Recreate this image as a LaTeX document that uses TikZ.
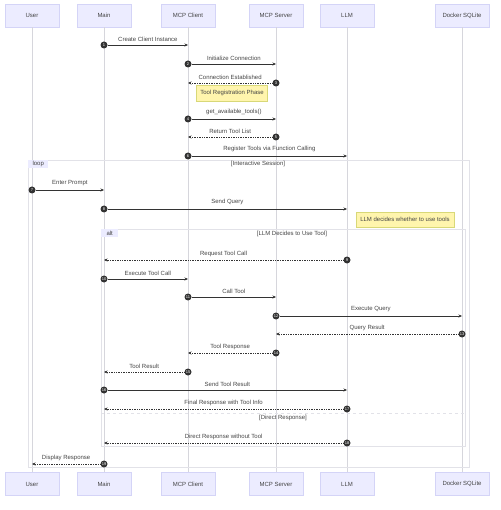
\documentclass[tikz,border=0pt]{standalone}
\usepackage{fontspec}
\setmainfont{Liberation Sans}
\usetikzlibrary{arrows.meta, positioning}
\definecolor{actorfill}{HTML}{ECECFF}
\definecolor{actorline}{HTML}{D4D4F7}
\definecolor{notefill}{HTML}{FFF5AD}
\definecolor{noteline}{HTML}{D8D878}
\definecolor{textgray}{HTML}{444444}
\definecolor{linegray}{HTML}{333333}
\definecolor{framegray}{HTML}{E2E2E8}
\definecolor{lifegray}{HTML}{D6D6DC}

\begin{document}
\begin{tikzpicture}[
    x=1pt, y=-1pt,
    >={Stealth[length=3.5pt, width=3pt]},
    font=\fontsize{6}{7}\selectfont,
    actor/.style={draw=actorline, fill=actorfill, minimum width=54pt, minimum height=23pt, inner sep=0pt, text=textgray},
    life/.style={draw=lifegray, line width=0.7pt},
    msg/.style={->, draw=linegray, line width=0.55pt},
    reply/.style={msg, line width=0.45pt, dash pattern=on 0.5pt off 1.2pt},
    seqnum/.style={circle, fill=linegray, text=white, inner sep=0pt, minimum size=7pt, font=\fontsize{4}{4}\selectfont},
    lbl/.style={above=3.5pt, text=textgray, inner sep=0pt},
    note/.style={draw=noteline, fill=notefill, inner sep=0pt, text=textgray},
    frame/.style={draw=framegray, line width=0.7pt},
    framelabel/.style={fill=actorfill, anchor=north west, inner sep=0pt, minimum height=8pt, text=textgray}
]
\useasboundingbox (0,0) rectangle (500,510);

% ================= PARTICIPANTS =================
\node[actor] (userT)   at (32,15.5)  {User};
\node[actor] (mainT)   at (104,15.5) {Main};
\node[actor] (clientT) at (188,15.5) {MCP Client};
\node[actor] (serverT) at (276,15.5) {MCP Server};
\node[actor] (llmT)    at (347,15.5) {LLM};
\node[actor] (dbT)     at (462,15.5) {Docker SQLite};

\node[actor] (userB)   at (32,484)  {User};
\node[actor] (mainB)   at (104,484) {Main};
\node[actor] (clientB) at (188,484) {MCP Client};
\node[actor] (serverB) at (276,484) {MCP Server};
\node[actor] (llmB)    at (347,484) {LLM};
\node[actor] (dbB)     at (462,484) {Docker SQLite};

% Lifelines
\draw[life] (userT) -- (userB);
\draw[life] (mainT) -- (mainB);
\draw[life] (clientT) -- (clientB);
\draw[life] (serverT) -- (serverB);
\draw[life] (llmT) -- (llmB);
\draw[life] (dbT) -- (dbB);

% ================= FRAMES =================
\coordinate (loopNW) at (28,160);
\coordinate (loopSE) at (469,467);
\draw[frame] (loopNW) rectangle (loopSE);
\node[framelabel, minimum width=20pt] (loopTag) at (loopNW) {loop};
\node[text=textgray] (loopCond) at (258,164) {[Interactive Session]};

\coordinate (altNW) at (101,229);
\coordinate (altSE) at (465,446);
\draw[frame] (altNW) rectangle (altSE);
\node[framelabel, minimum width=17pt] (altTag) at (altNW) {alt};
\node[text=textgray] (altCond) at (292,233.5) {[LLM Decides to Use Tool]};

\coordinate (elseW) at (101,413);
\coordinate (elseE) at (465,413);
\draw[frame, dashed] (elseW) -- (elseE);
\node[text=textgray] (elseCond) at (283,418) {[Direct Response]};

% ================= SETUP =================
\node[seqnum] (s1) at (104,45) {1};
\draw[msg] (s1) -- (clientT |- s1) node[midway, lbl] {Create Client Instance};

\node[seqnum] (s2) at (188,64) {2};
\draw[msg] (s2) -- (serverT |- s2) node[midway, lbl] {Initialize Connection};

\node[seqnum] (s3) at (276,83) {3};
\draw[reply] (s3) -- (clientT |- s3) node[midway, lbl] {Connection Established};

\node[note, minimum width=71pt, minimum height=16pt] (regNote) at (232,93) {Tool Registration Phase};

\node[seqnum] (s4) at (188,119) {4};
\draw[msg] (s4) -- (serverT |- s4) node[midway, lbl] {get\_available\_tools()};

\node[seqnum] (s5) at (276,137) {5};
\draw[reply] (s5) -- (clientT |- s5) node[midway, lbl] {Return Tool List};

\node[seqnum] (s6) at (188,156) {6};
\draw[msg] (s6) -- (llmT |- s6) node[midway, lbl] {Register Tools via Function Calling};

% ================= INTERACTIVE SESSION =================
\node[seqnum] (s7) at (32,190) {7};
\draw[msg] (s7) -- (mainT |- s7) node[midway, lbl] {Enter Prompt};

\node[seqnum] (s8) at (104,209) {8};
\draw[msg] (s8) -- (llmT |- s8) node[midway, lbl] {Send Query};

\node[note, minimum width=98pt, minimum height=15pt] (decideNote) at (405,219.5) {LLM decides whether to use tools};

% Tool branch
\node[seqnum] (s9) at (347,260) {9};
\draw[reply] (s9) -- (mainT |- s9) node[midway, lbl] {Request Tool Call};

\node[seqnum] (s10) at (104,279) {10};
\draw[msg] (s10) -- (clientT |- s10) node[midway, lbl] {Execute Tool Call};

\node[seqnum] (s11) at (188,297) {11};
\draw[msg] (s11) -- (serverT |- s11) node[midway, lbl] {Call Tool};

\node[seqnum] (s12) at (276,316) {12};
\draw[msg] (s12) -- (dbT |- s12) node[midway, lbl] {Execute Query};

\node[seqnum] (s13) at (462,334) {13};
\draw[reply] (s13) -- (serverT |- s13) node[midway, lbl] {Query Result};

\node[seqnum] (s14) at (276,353) {14};
\draw[reply] (s14) -- (clientT |- s14) node[midway, lbl] {Tool Response};

\node[seqnum] (s15) at (188,372) {15};
\draw[reply] (s15) -- (mainT |- s15) node[midway, lbl] {Tool Result};

\node[seqnum] (s16) at (104,390) {16};
\draw[msg] (s16) -- (llmT |- s16) node[midway, lbl] {Send Tool Result};

\node[seqnum] (s17) at (347,409) {17};
\draw[reply] (s17) -- (mainT |- s17) node[midway, lbl] {Final Response with Tool Info};

% Direct branch
\node[seqnum] (s18) at (347,443) {18};
\draw[reply] (s18) -- (mainT |- s18) node[midway, lbl] {Direct Response without Tool};

\node[seqnum] (s19) at (104,464) {19};
\draw[reply] (s19) -- (userT |- s19) node[midway, lbl] {Display Response};

\end{tikzpicture}
\end{document}
